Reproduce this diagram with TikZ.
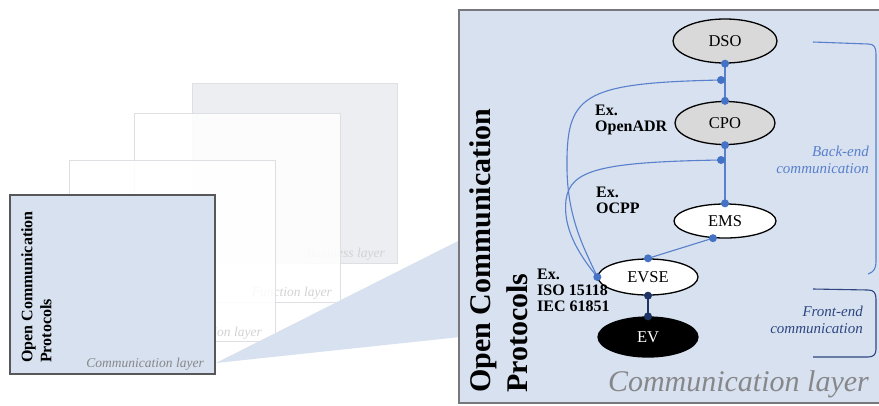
\documentclass[tikz,border=0pt]{standalone}
\usepackage{fontspec}
\setmainfont{Liberation Serif}
\usetikzlibrary{shapes.geometric}
\definecolor{panelblue}{RGB}{215,225,239}
\definecolor{dotblue}{RGB}{68,114,196}
\definecolor{linkblue}{RGB}{88,128,204}
\definecolor{navy}{RGB}{31,52,100}
\definecolor{frontblue}{RGB}{45,70,130}
\definecolor{ghostline}{RGB}{222,223,226}
\definecolor{ghosttext}{RGB}{210,210,212}
\definecolor{layergrey}{RGB}{135,135,138}
\tikzset{
  actor/.style={ellipse, draw=black, line width=1.3pt, inner sep=0pt,
    font=\fontsize{16.5}{19}\selectfont},
  greyactor/.style={actor, fill=black!15},
  whiteactor/.style={actor, fill=white},
  blackactor/.style={actor, fill=black, text=white},
  dotb/.style={circle, fill=dotblue, inner sep=0pt, minimum size=8pt},
  dotn/.style={circle, fill=navy, inner sep=0pt, minimum size=8pt},
  link/.style={draw=linkblue, line width=1.1pt},
  deeplink/.style={draw=navy, line width=1.3pt},
  proto/.style={font=\fontsize{16}{16}\selectfont\bfseries, align=left, inner sep=0pt},
  ghost/.style={draw=ghostline, line width=1pt},
  ghostlabel/.style={text=ghosttext, font=\fontsize{13.5}{14}\selectfont\itshape, inner sep=0pt},
}
\begin{document}
\begin{tikzpicture}[x=1pt,y=-1pt]
\clip (0,0) rectangle (879,405);
\fill[white] (0,0) rectangle (879,405);

% stack of SGAM layers behind the communication layer
\filldraw[ghost, fill={rgb,255:red,236;green,238;blue,241}] (192,83) rectangle (397,263);
\node[ghostlabel, anchor=base east] (busl) at (385,257) {Business layer};
\filldraw[ghost, fill=white, fill opacity=0.88] (134,113) rectangle (340,302);
\node[ghostlabel, anchor=base east] (funl) at (332,296) {Function layer};
\filldraw[ghost, fill=white, fill opacity=0.88] (69,160) rectangle (275,341);
\node[ghostlabel, anchor=base east] (infl) at (262,336) {Information layer};

% communication layer (small)
\filldraw[draw={rgb,255:red,88;green,88;blue,90}, line width=1.2pt, fill=panelblue] (10,195) rectangle (215,374);
\node[rotate=90, anchor=north west, align=left, inner sep=0pt,
  font=\fontsize{16}{19}\selectfont\bfseries] (smalltitle) at (21,363)
  {Open Communication\\Protocols};
\node[anchor=base east, inner sep=0pt, text=layergrey,
  font=\fontsize{13.5}{14}\selectfont\itshape] (smalllayer) at (204,367) {Communication layer};

% magnifying wedge
\fill[panelblue] (216,363) -- (460,240) -- (460,337) -- cycle;

% communication layer (enlarged)
\filldraw[draw={rgb,255:red,120;green,120;blue,124}, line width=1.5pt, fill=panelblue] (459,10) rectangle (890,403);
\node[rotate=90, anchor=north west, align=left, inner sep=0pt,
  font=\fontsize{30}{37}\selectfont\bfseries] (bigtitle) at (469,393)
  {Open Communication\\Protocols};
\node[anchor=base east, inner sep=0pt, text=layergrey,
  font=\fontsize{30}{32}\selectfont\itshape] (biglayer) at (869,391) {Communication layer};

% actors
\node[greyactor, minimum width=104pt, minimum height=44pt] (dso) at (725,41) {DSO};
\node[greyactor, minimum width=100pt, minimum height=43pt] (cpo) at (725,123) {CPO};
\node[whiteactor, minimum width=102pt, minimum height=34pt] (ems) at (725,221) {EMS};
\node[whiteactor, minimum width=100pt, minimum height=36pt] (evse) at (648,277) {EVSE};
\node[blackactor, minimum width=100pt, minimum height=40pt] (ev) at (648,337) {EV};

% attachment points of the curved links
\coordinate (adr) at (721,80);
\coordinate (ocpp) at (721,160);
\coordinate (bend1) at (567,170);
\coordinate (bend2) at (566,200);

% back-end links
\draw[link] (dso.south) -- (cpo.north);
\draw[link] (cpo.south) -- (ems.north);
\draw[link] (ems.235) -- (evse.north);
\draw[link] (evse.west) .. controls (585,250) and (568,220) .. (bend1)
  .. controls (566,95) and (580,83) .. (adr);
\draw[link] (evse.west) .. controls (575,250) and (563,225) .. (bend2)
  .. controls (570,170) and (600,162) .. (ocpp);
% front-end link
\draw[deeplink] (evse.south) -- (ev.north);

\node[dotb] (d1) at (dso.south) {};
\node[dotb] (d2) at (cpo.north) {};
\node[dotb] (d3) at (adr) {};
\node[dotb] (d4) at (cpo.south) {};
\node[dotb] (d5) at (ocpp) {};
\node[dotb] (d6) at (ems.north) {};
\node[dotb] (d7) at (ems.235) {};
\node[dotb] (d8) at (evse.north) {};
\node[dotb] (d9) at (evse.west) {};
\node[dotn] (d10) at (evse.south) {};
\node[dotn] (d11) at (ev.north) {};

% protocol examples
\node[proto, anchor=north west] (openadr) at (595,105) {Ex.\\OpenADR};
\node[proto, anchor=north west] (ocpplab) at (596,187) {Ex.\\OCPP};
\node[proto, anchor=north west] (isolab) at (537,269) {Ex.\\ISO 15118\\IEC 61851};

% communication scopes
\draw[draw=linkblue, line width=1.1pt] (813,42) -- (868,44)
  .. controls (874,44) and (876,47) .. (876,54) -- (876,262)
  .. controls (876,268) and (874,272) .. (868,274);
\node[anchor=east, align=right, inner sep=0pt, text=linkblue,
  font=\fontsize{15}{17}\selectfont\itshape] (backlab) at (869,160) {Back-end\\communication};
\draw[draw=frontblue, line width=1.1pt] (813,289) -- (868,290)
  .. controls (874,290) and (876,293) .. (876,299) -- (876,349)
  .. controls (876,354) and (874,357) .. (868,357) -- (813,357);
\node[anchor=east, align=right, inner sep=0pt, text=frontblue,
  font=\fontsize{15}{17}\selectfont\itshape] (frontlab) at (863,320) {Front-end\\communication};
\end{tikzpicture}
\end{document}
